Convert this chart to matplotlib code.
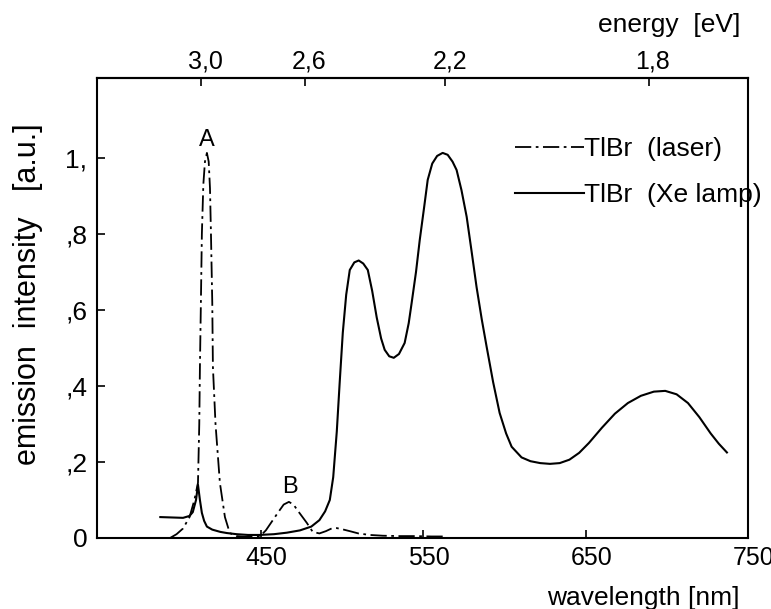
import numpy as np
import matplotlib
matplotlib.use('Agg')
import matplotlib.pyplot as plt
from matplotlib.transforms import ScaledTranslation

# Xe lamp excited emission (solid line)
wl_lamp = [388, 395, 402, 406, 408, 410, 411.2, 412.4, 413.6, 415, 416.7, 420, 425, 429,
           435, 442, 449, 458, 466, 474, 481, 486, 489.5, 492.4, 494.5, 496.7, 498.5,
           500.4, 502.5, 504.7, 507.5, 510.2, 513, 515.8, 518.5, 521.3, 524, 526.2, 529,
           531.8, 535, 538.5, 541, 542.8, 545.5, 547.8, 550.5, 552.7, 555.5, 558.5, 561.9,
           565, 568, 570.5, 573.5, 576.7, 579.7, 582.8, 586, 589, 593, 597, 601, 604.4,
           610.5, 616, 622, 628, 634, 640, 646, 652, 660, 668, 676, 684, 692, 699, 706,
           713, 720, 727, 732, 737]
int_lamp = [0.055, 0.054, 0.053, 0.058, 0.068, 0.10, 0.14, 0.10, 0.066, 0.045, 0.03, 0.022,
            0.016, 0.013, 0.01, 0.008, 0.008, 0.01, 0.014, 0.02, 0.03, 0.047, 0.07, 0.10,
            0.16, 0.28, 0.41, 0.54, 0.64, 0.705, 0.725, 0.73, 0.722, 0.705, 0.65, 0.58,
            0.525, 0.495, 0.478, 0.474, 0.484, 0.513, 0.565, 0.618, 0.70, 0.784, 0.87,
            0.942, 0.985, 1.005, 1.013, 1.008, 0.99, 0.968, 0.915, 0.845, 0.755, 0.66,
            0.575, 0.503, 0.41, 0.329, 0.275, 0.24, 0.212, 0.202, 0.197, 0.195, 0.197,
            0.206, 0.224, 0.25, 0.29, 0.327, 0.355, 0.374, 0.385, 0.387, 0.378, 0.355,
            0.318, 0.275, 0.248, 0.225]

# laser excited emission (dash-dot line)
wl_laser = [394, 398, 402, 406, 409, 411.2, 412, 412.4, 413, 413.6, 414.5, 415.5, 416.7,
            417.8, 418.6, 419.2, 420, 420.4, 422, 424.7, 427.8, 430.8, 435, 440, 449.3,
            453, 457, 461, 464, 467.2, 470, 473, 478.2, 481.9, 486, 490, 493.5, 496.7,
            500, 504.7, 510, 517, 525, 535.5, 545, 555, 564]
int_laser = [0.0, 0.01, 0.025, 0.055, 0.10, 0.145, 0.30, 0.45, 0.62, 0.80, 0.93, 0.99,
             1.013, 0.99, 0.92, 0.80, 0.62, 0.45, 0.30, 0.145, 0.055, 0.013, 0.005, 0.003,
             0.004, 0.02, 0.045, 0.07, 0.088, 0.095, 0.088, 0.07, 0.04, 0.016, 0.012,
             0.018, 0.025, 0.026, 0.023, 0.018, 0.012, 0.008, 0.006, 0.005, 0.005, 0.004,
             0.004]

x_ticks = [450, 550, 650, 750]
x_ticklabels = ['450', '550', '650', '750']
y_ticks = [0, 0.2, 0.4, 0.6, 0.8, 1.0]
y_ticklabels = ['0', ',2', ',4', ',6', ',8', '1,']
e_ticks = [3.0, 2.6, 2.2, 1.8]
e_ticklabels = ['3,0', '2,6', '2,2', '1,8']

txt_font = ['Liberation Sans', 'DejaVu Sans']

fig = plt.figure(figsize=(7.71, 6.09), dpi=100)
ax = fig.add_axes([0.1258, 0.1166, 0.8444, 0.7553])

ax.plot(wl_lamp, int_lamp, color='black', lw=1.5, label='TlBr  (Xe lamp)')
ax.plot(wl_laser, int_laser, color='black', lw=1.3,
        linestyle=(0, (9, 2.5, 1.5, 2.5)), label='TlBr  (laser)')

ax.set_xlim(349, 750)
ax.set_ylim(0, 1.21)

for s in ax.spines.values():
    s.set_linewidth(1.5)

ax.set_xticks(x_ticks)
ax.set_xticklabels(x_ticklabels, family=txt_font, fontsize=18)
ax.set_yticks(y_ticks)
ax.set_yticklabels(y_ticklabels, family=txt_font, fontsize=19)
ax.tick_params(direction='in', length=6, width=1.2)
ax.tick_params(axis='x', pad=6)
ax.tick_params(axis='y', pad=7)

# labels in the scan sit a bit right of their ticks
shift = ScaledTranslation(4 / 72, 0, fig.dpi_scale_trans)
for lab in ax.get_xticklabels():
    lab.set_transform(lab.get_transform() + shift)

# energy scale on top
def to_ev(x):
    x = np.asarray(x, dtype=float)
    with np.errstate(divide='ignore'):
        return 1240.0 / x

secax = ax.secondary_xaxis('top', functions=(to_ev, to_ev))
secax.set_xticks(e_ticks)
secax.set_xticklabels(e_ticklabels, family=txt_font, fontsize=18)
secax.tick_params(direction='in', length=6, width=1.2, pad=3)
secax.spines['top'].set_linewidth(1.5)
for lab in secax.get_xticklabels():
    lab.set_transform(lab.get_transform() + ScaledTranslation(3 / 72, 0, fig.dpi_scale_trans))

fig.text(669 / 771, 1 - 25 / 609, 'energy  [eV]', ha='center', va='center',
         family=txt_font, fontsize=19)

ax.set_xlabel('wavelength [nm]', family=txt_font, fontsize=19, va='top')
ax.xaxis.set_label_coords(0.839, -0.105)

fig.text(28 / 771, 1 - 294 / 609, 'emission  intensity   [a.u.]', rotation=90,
         ha='center', va='center', family=txt_font, fontsize=22)

# peak labels
ax.text(416.7, 1.047, 'A', ha='center', va='center', family=txt_font, fontsize=17)
ax.text(467.8, 0.134, 'B', ha='center', va='center', family=txt_font, fontsize=17)

handles, labels = ax.get_legend_handles_labels()
leg = ax.legend(handles[::-1], labels[::-1], loc='upper left',
                bbox_to_anchor=(0.642, 0.872), frameon=False,
                prop={'family': txt_font, 'size': 19},
                handlelength=2.6, handletextpad=0.0, labelspacing=0.85,
                borderpad=0, borderaxespad=0)

fig.savefig('out.png', dpi=100)
